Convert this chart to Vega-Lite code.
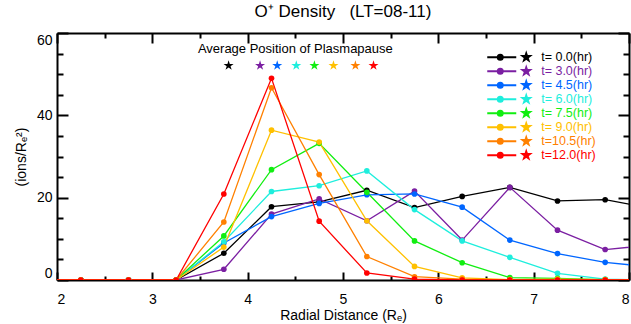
{
  "$schema": "https://vega.github.io/schema/vega-lite/v6.json",
  "width": 572,
  "height": 247,
  "autosize": "none",
  "padding": {"left": 57, "top": 33, "right": 2, "bottom": 44},
  "background": "white",
  "config": {
    "font": "Liberation Sans",
    "view": {"stroke": null},
    "axis": {
      "grid": false,
      "domainColor": "black",
      "domainWidth": 2,
      "tickColor": "black",
      "tickWidth": 2,
      "labelColor": "black",
      "labelFont": "Liberation Sans",
      "labelFontSize": 14,
      "titleFont": "Liberation Sans",
      "titleFontSize": 14,
      "titleFontWeight": "normal",
      "titleColor": "black"
    }
  },
  "title": {
    "text": "O⁺ Density\u00a0\u00a0 (LT=08-11)",
    "fontSize": 17,
    "fontWeight": "normal",
    "font": "Liberation Sans",
    "color": "black",
    "anchor": "middle",
    "baseline": "alphabetic",
    "offset": -2
  },
  "datasets": {
    "dens": [
      {"t": "t= 0.0(hr)", "r": 1.75, "n": 0}, {"t": "t= 0.0(hr)", "r": 2.25, "n": 0}, {"t": "t= 0.0(hr)", "r": 2.75, "n": 0}, {"t": "t= 0.0(hr)", "r": 3.25, "n": 0}, {"t": "t= 0.0(hr)", "r": 3.75, "n": 6.5}, {"t": "t= 0.0(hr)", "r": 4.25, "n": 17.8}, {"t": "t= 0.0(hr)", "r": 4.75, "n": 19.0}, {"t": "t= 0.0(hr)", "r": 5.25, "n": 21.8}, {"t": "t= 0.0(hr)", "r": 5.75, "n": 17.6}, {"t": "t= 0.0(hr)", "r": 6.25, "n": 20.3}, {"t": "t= 0.0(hr)", "r": 6.75, "n": 22.5}, {"t": "t= 0.0(hr)", "r": 7.25, "n": 19.2}, {"t": "t= 0.0(hr)", "r": 7.75, "n": 19.5}, {"t": "t= 0.0(hr)", "r": 8.25, "n": 17.4},
      {"t": "t= 3.0(hr)", "r": 1.75, "n": 0}, {"t": "t= 3.0(hr)", "r": 2.25, "n": 0}, {"t": "t= 3.0(hr)", "r": 2.75, "n": 0}, {"t": "t= 3.0(hr)", "r": 3.25, "n": 0}, {"t": "t= 3.0(hr)", "r": 3.75, "n": 2.6}, {"t": "t= 3.0(hr)", "r": 4.25, "n": 16.0}, {"t": "t= 3.0(hr)", "r": 4.75, "n": 19.7}, {"t": "t= 3.0(hr)", "r": 5.25, "n": 14.4}, {"t": "t= 3.0(hr)", "r": 5.75, "n": 21.6}, {"t": "t= 3.0(hr)", "r": 6.25, "n": 9.7}, {"t": "t= 3.0(hr)", "r": 6.75, "n": 22.5}, {"t": "t= 3.0(hr)", "r": 7.25, "n": 12.1}, {"t": "t= 3.0(hr)", "r": 7.75, "n": 7.4}, {"t": "t= 3.0(hr)", "r": 8.25, "n": 8.5},
      {"t": "t= 4.5(hr)", "r": 1.75, "n": 0}, {"t": "t= 4.5(hr)", "r": 2.25, "n": 0}, {"t": "t= 4.5(hr)", "r": 2.75, "n": 0}, {"t": "t= 4.5(hr)", "r": 3.25, "n": 0}, {"t": "t= 4.5(hr)", "r": 3.75, "n": 9.0}, {"t": "t= 4.5(hr)", "r": 4.25, "n": 15.4}, {"t": "t= 4.5(hr)", "r": 4.75, "n": 18.6}, {"t": "t= 4.5(hr)", "r": 5.25, "n": 20.7}, {"t": "t= 4.5(hr)", "r": 5.75, "n": 20.9}, {"t": "t= 4.5(hr)", "r": 6.25, "n": 17.7}, {"t": "t= 4.5(hr)", "r": 6.75, "n": 9.7}, {"t": "t= 4.5(hr)", "r": 7.25, "n": 6.4}, {"t": "t= 4.5(hr)", "r": 7.75, "n": 4.3}, {"t": "t= 4.5(hr)", "r": 8.25, "n": 3.1},
      {"t": "t= 6.0(hr)", "r": 1.75, "n": 0}, {"t": "t= 6.0(hr)", "r": 2.25, "n": 0}, {"t": "t= 6.0(hr)", "r": 2.75, "n": 0}, {"t": "t= 6.0(hr)", "r": 3.25, "n": 0}, {"t": "t= 6.0(hr)", "r": 3.75, "n": 9.3}, {"t": "t= 6.0(hr)", "r": 4.25, "n": 21.5}, {"t": "t= 6.0(hr)", "r": 4.75, "n": 22.9}, {"t": "t= 6.0(hr)", "r": 5.25, "n": 26.5}, {"t": "t= 6.0(hr)", "r": 5.75, "n": 17.1}, {"t": "t= 6.0(hr)", "r": 6.25, "n": 9.5}, {"t": "t= 6.0(hr)", "r": 6.75, "n": 5.5}, {"t": "t= 6.0(hr)", "r": 7.25, "n": 1.6}, {"t": "t= 6.0(hr)", "r": 7.75, "n": 0.2}, {"t": "t= 6.0(hr)", "r": 8.25, "n": 0},
      {"t": "t= 7.5(hr)", "r": 1.75, "n": 0}, {"t": "t= 7.5(hr)", "r": 2.25, "n": 0}, {"t": "t= 7.5(hr)", "r": 2.75, "n": 0}, {"t": "t= 7.5(hr)", "r": 3.25, "n": 0}, {"t": "t= 7.5(hr)", "r": 3.75, "n": 10.7}, {"t": "t= 7.5(hr)", "r": 4.25, "n": 26.8}, {"t": "t= 7.5(hr)", "r": 4.75, "n": 33.2}, {"t": "t= 7.5(hr)", "r": 5.25, "n": 21.3}, {"t": "t= 7.5(hr)", "r": 5.75, "n": 9.5}, {"t": "t= 7.5(hr)", "r": 6.25, "n": 4.2}, {"t": "t= 7.5(hr)", "r": 6.75, "n": 0.6}, {"t": "t= 7.5(hr)", "r": 7.25, "n": 0.4}, {"t": "t= 7.5(hr)", "r": 7.75, "n": 0.1}, {"t": "t= 7.5(hr)", "r": 8.25, "n": 0},
      {"t": "t= 9.0(hr)", "r": 1.75, "n": 0}, {"t": "t= 9.0(hr)", "r": 2.25, "n": 0}, {"t": "t= 9.0(hr)", "r": 2.75, "n": 0}, {"t": "t= 9.0(hr)", "r": 3.25, "n": 0}, {"t": "t= 9.0(hr)", "r": 3.75, "n": 8.0}, {"t": "t= 9.0(hr)", "r": 4.25, "n": 36.4}, {"t": "t= 9.0(hr)", "r": 4.75, "n": 33.5}, {"t": "t= 9.0(hr)", "r": 5.25, "n": 14.4}, {"t": "t= 9.0(hr)", "r": 5.75, "n": 3.3}, {"t": "t= 9.0(hr)", "r": 6.25, "n": 0.5}, {"t": "t= 9.0(hr)", "r": 6.75, "n": 0.1}, {"t": "t= 9.0(hr)", "r": 7.25, "n": 0.2}, {"t": "t= 9.0(hr)", "r": 7.75, "n": 0.1}, {"t": "t= 9.0(hr)", "r": 8.25, "n": 0},
      {"t": "t=10.5(hr)", "r": 1.75, "n": 0}, {"t": "t=10.5(hr)", "r": 2.25, "n": 0}, {"t": "t=10.5(hr)", "r": 2.75, "n": 0}, {"t": "t=10.5(hr)", "r": 3.25, "n": 0}, {"t": "t=10.5(hr)", "r": 3.75, "n": 14.1}, {"t": "t=10.5(hr)", "r": 4.25, "n": 46.7}, {"t": "t=10.5(hr)", "r": 4.75, "n": 25.6}, {"t": "t=10.5(hr)", "r": 5.25, "n": 5.7}, {"t": "t=10.5(hr)", "r": 5.75, "n": 0.8}, {"t": "t=10.5(hr)", "r": 6.25, "n": 0.2}, {"t": "t=10.5(hr)", "r": 6.75, "n": 0}, {"t": "t=10.5(hr)", "r": 7.25, "n": 0}, {"t": "t=10.5(hr)", "r": 7.75, "n": 0}, {"t": "t=10.5(hr)", "r": 8.25, "n": 0},
      {"t": "t=12.0(hr)", "r": 1.75, "n": 0}, {"t": "t=12.0(hr)", "r": 2.25, "n": 0}, {"t": "t=12.0(hr)", "r": 2.75, "n": 0}, {"t": "t=12.0(hr)", "r": 3.25, "n": 0}, {"t": "t=12.0(hr)", "r": 3.75, "n": 20.9}, {"t": "t=12.0(hr)", "r": 4.25, "n": 49.0}, {"t": "t=12.0(hr)", "r": 4.75, "n": 14.3}, {"t": "t=12.0(hr)", "r": 5.25, "n": 1.7}, {"t": "t=12.0(hr)", "r": 5.75, "n": 0.2}, {"t": "t=12.0(hr)", "r": 6.25, "n": 0}, {"t": "t=12.0(hr)", "r": 6.75, "n": 0}, {"t": "t=12.0(hr)", "r": 7.25, "n": 0}, {"t": "t=12.0(hr)", "r": 7.75, "n": 0}, {"t": "t=12.0(hr)", "r": 8.25, "n": 0}
    ],
    "pp": [
      {"t": "t= 0.0(hr)", "pos": 3.80},
      {"t": "t= 3.0(hr)", "pos": 4.13},
      {"t": "t= 4.5(hr)", "pos": 4.31},
      {"t": "t= 6.0(hr)", "pos": 4.51},
      {"t": "t= 7.5(hr)", "pos": 4.70},
      {"t": "t= 9.0(hr)", "pos": 4.90},
      {"t": "t=10.5(hr)", "pos": 5.13},
      {"t": "t=12.0(hr)", "pos": 5.32}
    ],
    "lbl": [{"label": "Average Position of Plasmapause"}]
  },
  "resolve": {"axis": {"x": "independent", "y": "independent"}},
  "layer": [
    {
      "data": {"name": "dens"},
      "mark": {"type": "line", "strokeWidth": 1.3, "clip": true},
      "encoding": {
        "x": {"field": "r", "type": "quantitative", "scale": {"domain": [2, 8], "nice": false, "zero": false},
          "axis": {"orient": "bottom", "values": [2, 3, 4, 5, 6, 7, 8], "tickSize": -8, "labelPadding": 20, "title": "Radial Distance (Rₑ)", "titleX": 286, "titleY": 35, "titleBaseline": "middle", "titleAlign": "center"}},
        "y": {"field": "n", "type": "quantitative", "scale": {"domain": [0, 60], "nice": false},
          "axis": {"orient": "left", "values": [0, 20, 40, 60], "tickSize": -11, "labelPadding": 16, "labelFlush": true, "title": "(ions/Rₑ²)", "titleX": -36, "titleY": 123.5, "titleBaseline": "middle", "titleAlign": "center", "titleAngle": -90}},
        "color": {"field": "t", "type": "nominal",
          "scale": {"domain": ["t= 0.0(hr)", "t= 3.0(hr)", "t= 4.5(hr)", "t= 6.0(hr)", "t= 7.5(hr)", "t= 9.0(hr)", "t=10.5(hr)", "t=12.0(hr)"],
                    "range": ["#000000", "#7B1FA2", "#0066FF", "#1EEEDD", "#11EE11", "#FFC000", "#FF8000", "#FF0000"]},
          "legend": {
            "orient": "none", "legendX": 437, "legendY": 18, "title": null, "padding": 0,
            "symbolType": "M-13,0L16,0M2.5,0A2.5,2.5 0 1,1 -2.5,0A2.5,2.5 0 1,1 2.5,0ZM26,-3.8L26.88,-1.21L29.61,-1.17L27.43,0.46L28.23,3.07L26,1.5L23.77,3.07L24.57,0.46L22.39,-1.17L25.12,-1.21Z",
            "symbolSize": 4, "symbolStrokeWidth": 2, "symbolOpacity": 1,
            "labelFont": "Liberation Sans", "labelFontSize": 10, "labelOffset": 34.7, "rowPadding": -5,
            "encode": {
              "labels": {"update": {"fill": {"scale": "color", "field": "value"}, "fontSize": {"value": 12.5}}},
              "symbols": {"update": {"fill": {"scale": "color", "field": "value"}, "stroke": {"scale": "color", "field": "value"}, "strokeWidth": {"value": 2}, "opacity": {"value": 1}}}
            }
          }
        }
      }
    },
    {
      "data": {"name": "dens"},
      "mark": {"type": "point", "filled": true, "size": 32, "opacity": 1, "clip": true},
      "encoding": {
        "x": {"field": "r", "type": "quantitative",
          "axis": {"orient": "bottom", "values": [2.5, 3.5, 4.5, 5.5, 6.5, 7.5], "tickSize": -4, "labels": false, "domain": false, "title": null}},
        "y": {"field": "n", "type": "quantitative",
          "axis": {"orient": "left", "values": [5, 10, 15, 25, 30, 35, 45, 50, 55], "tickSize": -6, "labels": false, "domain": false, "title": null}},
        "color": {"field": "t", "type": "nominal", "legend": null}
      }
    },
    {
      "data": {"name": "pp"},
      "mark": {"type": "point", "filled": true, "size": 111, "opacity": 1, "strokeWidth": 0,
        "shape": "M0,-1L0.2245,-0.309L0.9511,-0.309L0.3633,0.118L0.5878,0.809L0,0.382L-0.5878,0.809L-0.3633,0.118L-0.9511,-0.309L-0.2245,-0.309Z"},
      "encoding": {
        "x": {"field": "pos", "type": "quantitative",
          "axis": {"orient": "top", "values": [2, 3, 4, 5, 6, 7, 8], "tickSize": -10, "labels": false, "title": null}},
        "y": {"datum": 52.1, "type": "quantitative",
          "axis": {"orient": "right", "values": [0, 20, 40, 60], "tickSize": -11, "labels": false, "title": null}},
        "color": {"field": "t", "type": "nominal", "legend": null}
      }
    },
    {
      "data": {"name": "lbl"},
      "mark": {"type": "text", "fontSize": 13, "font": "Liberation Sans", "color": "black", "align": "center", "baseline": "middle"},
      "encoding": {
        "x": {"datum": 4.5, "type": "quantitative",
          "axis": {"orient": "top", "values": [2.5, 3.5, 4.5, 5.5, 6.5, 7.5], "tickSize": -5, "labels": false, "domain": false, "title": null}},
        "y": {"datum": 56, "type": "quantitative",
          "axis": {"orient": "right", "values": [5, 10, 15, 25, 30, 35, 45, 50, 55], "tickSize": -6, "labels": false, "domain": false, "title": null}},
        "text": {"field": "label"}
      }
    }
  ]
}
